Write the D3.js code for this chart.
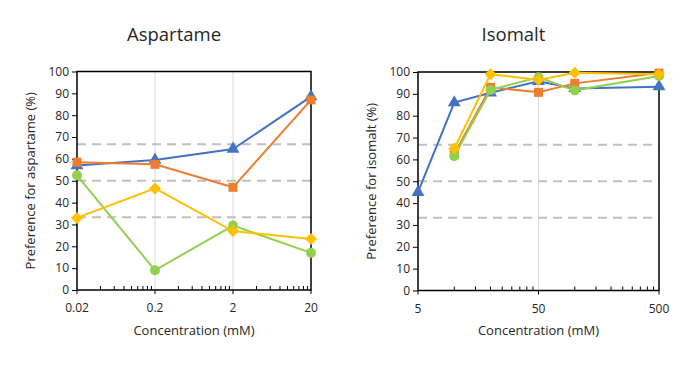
<!DOCTYPE html>
<html><head><meta charset="utf-8">
<script src="https://cdn.jsdelivr.net/npm/d3@7"></script>
<style>
body{margin:0;background:#fff;}
text{font-family:"Open Sans",sans-serif;fill:#262626;}
</style></head>
<body><svg id="c" width="690" height="382"></svg>
<script>
// Aspartame panel
const aspConc = [0.02, 0.2, 2, 20];
const aspBlue = [57, 59.5, 64.5, 88.5];
const aspOrange = [58.5, 57.5, 47, 87];
const aspGreen = [52.5, 9, 29.5, 17];
const aspYellow = [33, 46.5, 27, 23.3];
const aspXTicks = [0.02, 0.2, 2, 20];
const aspXTickLabels = ["0.02", "0.2", "2", "20"];

// Isomalt panel
const isoConc = [5, 10, 20, 50, 100, 500];
const isoBlue = [45, 86, 90.5, 95.8, 92.5, 93.3];
const isoOrangeConc = [10, 20, 50, 100, 500];
const isoOrange = [62.5, 93, 90.7, 94.8, 99.5];
const isoGreen = [61.5, 91.8, 97.6, 91.6, 98.2];
const isoYellow = [65, 99, 96.3, 99.7, 99];
const isoXTicks = [5, 50, 500];
const isoXTickLabels = ["5", "50", "500"];

const yTicks = [0,10,20,30,40,50,60,70,80,90,100];
const refLines = [33.33, 50, 66.67];

const colors = {blue:"#4472C4", orange:"#ED7D31", green:"#92D050", yellow:"#FFC000"};

const svg = d3.select("#c");

const diamondPath = r => `M0,${-r}L${r},0L0,${r}L${-r},0Z`;

function panel(opt){
  const g = svg.append("g");
  const x = d3.scaleLog().domain(opt.xDomain).range([opt.left, opt.right]);
  const y = d3.scaleLinear().domain([0,100]).range([opt.bottom, opt.top]);

  g.selectAll(".vg").data(opt.xTicks.slice(1,-1)).join("line")
    .attr("x1", d=>x(d)).attr("x2", d=>x(d))
    .attr("y1", opt.top).attr("y2", opt.bottom)
    .attr("stroke", "#d9d9d9").attr("stroke-width", 1);

  g.selectAll(".rl").data(refLines).join("line")
    .attr("x1", opt.left).attr("x2", opt.right)
    .attr("y1", d=>y(d)).attr("y2", d=>y(d))
    .attr("stroke", "#c0c0c0").attr("stroke-width", 2)
    .attr("stroke-dasharray", "9,6");

  const minors = [];
  const d0 = opt.xDomain[0];
  for (let dec = d0; dec < opt.xDomain[1]*0.999; dec *= 10) {
    for (let k = 2; k <= 9; k++) minors.push(dec*k);
  }
  g.selectAll(".mt").data(minors).join("line")
    .attr("x1", d=>x(d)).attr("x2", d=>x(d))
    .attr("y1", opt.bottom).attr("y2", opt.bottom-4)
    .attr("stroke", "#000").attr("stroke-width", 1);
  g.selectAll(".Mt").data(opt.xTicks).join("line")
    .attr("x1", d=>x(d)).attr("x2", d=>x(d))
    .attr("y1", opt.bottom).attr("y2", opt.bottom+4)
    .attr("stroke", "#000").attr("stroke-width", 1);

  const ya = d3.axisLeft(y).tickValues(yTicks).tickSize(5).tickPadding(3).tickFormat(d3.format("d"));
  const yg = g.append("g").attr("transform", `translate(${opt.left},0)`).call(ya);
  yg.select(".domain").remove();
  yg.selectAll("line").attr("stroke", "#000");
  yg.selectAll("text").style("font-size","12px").attr("fill","#262626");

  g.selectAll(".xl").data(opt.xTicks).join("text")
    .attr("x", d=>x(d)).attr("y", opt.bottom+22)
    .attr("text-anchor","middle").style("font-size","12px")
    .text((d,i)=>opt.xTickLabels[i]);

  g.append("rect").attr("x", opt.left).attr("y", opt.top)
    .attr("width", opt.right-opt.left).attr("height", opt.bottom-opt.top)
    .attr("fill","none").attr("stroke","#000").attr("stroke-width",1.5);

  const line = d3.line().x(d=>x(d[0])).y(d=>y(d[1]));
  const sym = {
    tri: d3.symbol().type(d3.symbolTriangle).size(72)(),
    sq: d3.symbol().type(d3.symbolSquare).size(81)(),
    circ: d3.symbol().type(d3.symbolCircle).size(78)(),
    dia: diamondPath(6)
  };
  opt.series.forEach(s=>{
    const pts = s.xs.map((xv,i)=>[xv, s.ys[i]]);
    g.append("path").datum(pts).attr("d", line)
      .attr("fill","none").attr("stroke", s.color).attr("stroke-width", 2);
    g.selectAll(null).data(pts).join("path")
      .attr("transform", d=>`translate(${x(d[0])},${y(d[1])})`)
      .attr("d", sym[s.marker]).attr("fill", s.color);
  });

  g.append("text").attr("x", (opt.left+opt.right)/2 - opt.titleShift).attr("y", 41)
    .attr("text-anchor","middle").style("font-size","18.5px").text(opt.title);
  g.append("text").attr("x", (opt.left+opt.right)/2).attr("y", 335)
    .attr("text-anchor","middle").style("font-size","13px").text("Concentration (mM)");
  g.append("text").attr("transform", `translate(${opt.left-42},${(opt.top+opt.bottom)/2}) rotate(-90)`)
    .attr("text-anchor","middle").style("font-size","13px").text(opt.yLabel);
}

panel({
  xDomain:[0.02,20], left:77, right:311, top:71.5, bottom:290,
  xTicks: aspXTicks, xTickLabels: aspXTickLabels,
  title:"Aspartame", titleShift:20, yLabel:"Preference for aspartame (%)",
  series:[
    {xs:aspConc, ys:aspBlue, color:colors.blue, marker:"tri"},
    {xs:aspConc, ys:aspOrange, color:colors.orange, marker:"sq"},
    {xs:aspConc, ys:aspGreen, color:colors.green, marker:"circ"},
    {xs:aspConc, ys:aspYellow, color:colors.yellow, marker:"dia"}
  ]
});
panel({
  xDomain:[5,500], left:418, right:659, top:72, bottom:290.5,
  xTicks: isoXTicks, xTickLabels: isoXTickLabels,
  title:"Isomalt", titleShift:25, yLabel:"Preference for isomalt (%)",
  series:[
    {xs:isoConc, ys:isoBlue, color:colors.blue, marker:"tri"},
    {xs:isoOrangeConc, ys:isoOrange, color:colors.orange, marker:"sq"},
    {xs:isoOrangeConc, ys:isoGreen, color:colors.green, marker:"circ"},
    {xs:isoOrangeConc, ys:isoYellow, color:colors.yellow, marker:"dia"}
  ]
});
</script></body></html>
